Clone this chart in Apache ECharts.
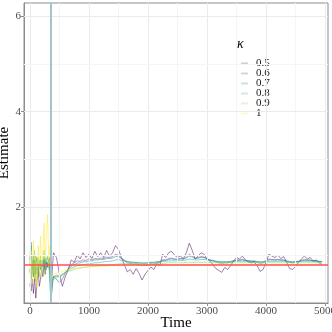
<!DOCTYPE html>
<html>
<head>
<meta charset="utf-8">
<script src="https://cdn.jsdelivr.net/npm/echarts@6/dist/echarts.min.js"></script>
<style>
  html, body { margin: 0; padding: 0; background: #fff; }
  #chart { width: 332px; height: 332px; }
</style>
</head>
<body>
<div id="chart"></div>
<script>
// sample times (shared by every series)
const time = [
  0, 20, 40, 60, 80, 100, 120, 140, 160, 180, 200, 220, 240, 260, 280, 300, 320, 340, 360, 380, 400,
  450, 500, 550, 600, 650, 700, 750, 800, 850, 900,
  950, 1000, 1050, 1100, 1150, 1200, 1250, 1300, 1350, 1400,
  1450, 1500, 1550, 1600, 1650, 1700, 1750, 1800, 1850, 1900,
  1950, 2000, 2050, 2100, 2150, 2200, 2250, 2300, 2350, 2400,
  2450, 2500, 2550, 2600, 2650, 2700, 2750, 2800, 2850, 2900,
  2950, 3000, 3050, 3100, 3150, 3200, 3250, 3300, 3350, 3400,
  3450, 3500, 3550, 3600, 3650, 3700, 3750, 3800, 3850, 3900,
  3950, 4000, 4050, 4100, 4150, 4200, 4250, 4300, 4350, 4400,
  4450, 4500, 4550, 4600, 4650, 4700, 4750, 4800, 4850, 4900,
  4950
]

const kappa = ['0.5', '0.6', '0.7', '0.8', '0.9', '1']
const colors = ['#440154', '#414487', '#2A788E', '#22A884', '#7AD151', '#FDE725']

const est05 = [
  0.4, 0.25, 0.5, 0.2, 0.55, 0.1, 0.45, 0.65, 0.35, 0.5, 0.7, 0.55, 0.8, 0.6, 0.85, 0.75, 0.9, 0.95, 0.3, 0.7, 1.05,
  0.95, 0.6, 0.35, 0.55, 0.7, 0.9, 0.85, 1.0, 0.92, 1.05,
  0.95, 1.02, 0.93, 1.08, 0.97, 1.05, 0.95, 1.1, 0.98, 1.05,
  1.2, 1.12, 0.95, 0.8, 0.65, 0.7, 0.6, 0.72, 0.62, 0.48,
  0.6, 0.68, 0.75, 0.7, 0.82, 0.78, 1.02, 0.95, 1.05, 1.08,
  1.0, 0.95, 0.98, 0.93, 1.05, 1.25, 1.1, 0.92, 0.98, 1.05,
  1.02, 0.92, 0.88, 0.8, 0.72, 0.68, 0.64, 0.74, 0.7, 0.78,
  0.88, 0.95, 0.92, 0.98, 0.9, 0.86, 0.84, 0.86, 0.78, 0.66,
  0.7, 0.85, 1.02, 0.98, 0.95, 1.0, 0.93, 0.97, 0.85, 0.72,
  0.7, 0.76, 0.85, 0.92, 0.98, 0.92, 0.95, 0.88, 0.9, 0.84,
  0.8
]
const est06 = [
  0.7, 0.5, 0.8, 0.55, 0.9, 0.6, 0.75, 0.65, 0.85, 0.7, 0.8, 0.75, 0.9, 0.7, 0.85, 0.8, 0.9, 0.7, 0.15, 0.45, 0.55,
  0.5, 0.42, 0.5, 0.62, 0.72, 0.8, 0.84, 0.88, 0.87, 0.9,
  0.89, 0.92, 0.9, 0.93, 0.92, 0.94, 0.93, 0.96, 0.95, 0.97,
  1.02, 1.0, 0.94, 0.88, 0.84, 0.83, 0.81, 0.82, 0.8, 0.78,
  0.79, 0.8, 0.82, 0.81, 0.84, 0.85, 0.9, 0.9, 0.93, 0.94,
  0.92, 0.91, 0.93, 0.92, 0.96, 1.02, 0.98, 0.93, 0.95, 0.97,
  0.96, 0.92, 0.9, 0.88, 0.86, 0.84, 0.83, 0.84, 0.84, 0.85,
  0.88, 0.9, 0.9, 0.91, 0.89, 0.88, 0.87, 0.87, 0.85, 0.83,
  0.84, 0.88, 0.92, 0.91, 0.9, 0.91, 0.9, 0.9, 0.87, 0.85,
  0.84, 0.85, 0.87, 0.89, 0.91, 0.9, 0.9, 0.88, 0.88, 0.87,
  0.86
]
const est07 = [
  0.9, 1.27, 0.7, 1.0, 0.6, 0.85, 0.95, 0.7, 0.8, 0.9, 0.75, 0.85, 0.95, 0.8, 0.9, 0.95, 0.85, 0.6, 0.08, 0.35, 0.55,
  0.58, 0.55, 0.58, 0.64, 0.7, 0.76, 0.8, 0.83, 0.84, 0.86,
  0.86, 0.88, 0.88, 0.9, 0.9, 0.91, 0.91, 0.93, 0.93, 0.94,
  0.97, 0.97, 0.93, 0.9, 0.87, 0.86, 0.85, 0.85, 0.84, 0.83,
  0.83, 0.84, 0.85, 0.85, 0.86, 0.87, 0.89, 0.89, 0.91, 0.92,
  0.91, 0.91, 0.92, 0.92, 0.94, 0.98, 0.96, 0.93, 0.94, 0.95,
  0.95, 0.92, 0.9, 0.89, 0.87, 0.86, 0.86, 0.86, 0.86, 0.87,
  0.88, 0.89, 0.89, 0.9, 0.89, 0.88, 0.88, 0.88, 0.87, 0.86,
  0.86, 0.88, 0.9, 0.9, 0.9, 0.9, 0.9, 0.89, 0.88, 0.87,
  0.86, 0.87, 0.87, 0.88, 0.89, 0.89, 0.89, 0.88, 0.88, 0.87,
  0.87
]
const est08 = [
  0.8, 1.2, 0.6, 0.9, 0.5, 1.0, 0.75, 0.6, 0.9, 0.8, 0.65, 0.9, 0.75, 0.95, 0.7, 0.85, 0.9, 0.3, 0.1, 0.45, 0.55,
  0.55, 0.57, 0.6, 0.64, 0.68, 0.72, 0.75, 0.78, 0.79, 0.8,
  0.81, 0.82, 0.83, 0.84, 0.84, 0.85, 0.86, 0.87, 0.87, 0.88,
  0.9, 0.91, 0.89, 0.88, 0.86, 0.85, 0.85, 0.84, 0.84, 0.84,
  0.84, 0.84, 0.85, 0.85, 0.86, 0.86, 0.87, 0.87, 0.88, 0.88,
  0.88, 0.88, 0.89, 0.89, 0.9, 0.92, 0.91, 0.9, 0.9, 0.91,
  0.91, 0.9, 0.89, 0.88, 0.87, 0.87, 0.86, 0.86, 0.86, 0.86,
  0.87, 0.87, 0.87, 0.87, 0.87, 0.87, 0.87, 0.86, 0.86, 0.86,
  0.86, 0.86, 0.87, 0.87, 0.87, 0.87, 0.87, 0.87, 0.87, 0.86,
  0.86, 0.86, 0.86, 0.87, 0.87, 0.87, 0.87, 0.87, 0.86, 0.86,
  0.86
]
const est09 = [
  0.7, 0.5, 0.9, 0.6, 1.1, 0.45, 0.8, 0.95, 0.55, 1.0, 0.7, 0.85, 1.1, 0.6, 0.9, 1.0, 0.75, 0.6, 0.35, 0.45, 0.5,
  0.52, 0.56, 0.6, 0.63, 0.66, 0.68, 0.7, 0.72, 0.73, 0.74,
  0.75, 0.76, 0.76, 0.77, 0.77, 0.78, 0.78, 0.79, 0.79, 0.8,
  0.81, 0.82, 0.82, 0.82, 0.82, 0.82, 0.82, 0.82, 0.82, 0.82,
  0.82, 0.82, 0.82, 0.82, 0.83, 0.83, 0.83, 0.83, 0.84, 0.84,
  0.84, 0.84, 0.84, 0.84, 0.85, 0.85, 0.85, 0.85, 0.85, 0.85,
  0.85, 0.85, 0.85, 0.84, 0.84, 0.84, 0.84, 0.84, 0.84, 0.84,
  0.84, 0.84, 0.84, 0.84, 0.84, 0.84, 0.84, 0.84, 0.84, 0.84,
  0.84, 0.84, 0.84, 0.84, 0.84, 0.84, 0.84, 0.84, 0.84, 0.84,
  0.84, 0.84, 0.84, 0.84, 0.84, 0.84, 0.84, 0.84, 0.84, 0.84,
  0.84
]
const est10 = [
  0.6, 1.1, 0.4, 1.3, 0.5, 1.0, 0.3, 1.2, 0.7, 1.4, 0.5, 1.1, 1.67, 0.9, 1.5, 1.85, 0.8, 1.2, 0.45, 0.55, 0.6,
  0.62, 0.64, 0.66, 0.68, 0.7, 0.71, 0.72, 0.73, 0.74, 0.74,
  0.75, 0.75, 0.76, 0.76, 0.76, 0.77, 0.77, 0.77, 0.78, 0.78,
  0.78, 0.78, 0.78, 0.79, 0.79, 0.79, 0.79, 0.79, 0.79, 0.79,
  0.79, 0.79, 0.79, 0.79, 0.79, 0.79, 0.79, 0.79, 0.79, 0.79,
  0.79, 0.79, 0.79, 0.79, 0.79, 0.8, 0.8, 0.8, 0.8, 0.8,
  0.8, 0.8, 0.8, 0.8, 0.8, 0.8, 0.8, 0.8, 0.8, 0.8,
  0.8, 0.8, 0.8, 0.8, 0.8, 0.8, 0.8, 0.8, 0.8, 0.8,
  0.8, 0.8, 0.8, 0.8, 0.8, 0.8, 0.8, 0.8, 0.8, 0.8,
  0.8, 0.8, 0.8, 0.8, 0.8, 0.8, 0.8, 0.8, 0.8, 0.8,
  0.8
]
const estimates = [est05, est06, est07, est08, est09, est10]

const trueValue = 0.8
const changeTime = 350

// tick / grid positions
const xMajor = [0, 1000, 2000, 3000, 4000, 5000]
const xMinor = [500, 1500, 2500, 3500, 4500]
const yMajor = [2, 4, 6]
const yMinor = [1, 3, 5]

const serif = 'Liberation Serif'

function rgba (hex, a) {
  let n = parseInt(hex.slice(1), 16)
  return 'rgba(' + (n >> 16) + ',' + ((n >> 8) & 255) + ',' + (n & 255) + ',' + a + ')'
}

let chart = echarts.init(document.getElementById('chart'), null, { renderer: 'canvas' })

let gridLines = []
xMajor.forEach(v => gridLines.push({ xAxis: v, lineStyle: { color: '#ebebeb', width: 1 } }))
xMinor.forEach(v => gridLines.push({ xAxis: v, lineStyle: { color: '#f5f5f5', width: 1 } }))
yMajor.forEach(v => gridLines.push({ yAxis: v, lineStyle: { color: '#ebebeb', width: 1 } }))
yMinor.forEach(v => gridLines.push({ yAxis: v, lineStyle: { color: '#f5f5f5', width: 1 } }))

let series = [{
  type: 'line',
  data: [],
  z: 0,
  silent: true,
  markLine: {
    silent: true,
    symbol: 'none',
    animation: false,
    label: { show: false },
    lineStyle: { type: 'solid' },
    data: gridLines
  }
}]

kappa.forEach((k, i) => {
  series.push({
    name: k,
    type: 'line',
    data: time.map((t, j) => [t, estimates[i][j]]),
    showSymbol: false,
    symbol: 'none',
    clip: true,
    z: 2,
    itemStyle: { color: colors[i] },
    lineStyle: { color: rgba(colors[i], 0.5), width: 1 },
    emphasis: { disabled: true },
    animation: false
  })
})

series.push({
  type: 'line',
  data: [],
  z: 3,
  silent: true,
  markLine: {
    silent: true,
    symbol: 'none',
    animation: false,
    label: { show: false },
    data: [
      { xAxis: changeTime, lineStyle: { color: '#a3c3cf', width: 2, type: 'solid' } },
      { yAxis: trueValue, lineStyle: { color: '#ff5050', width: 1.5, type: 'solid' } }
    ]
  }
})

let option = {
  backgroundColor: '#ffffff',
  animation: false,
  grid: {
    left: 24, right: 4, top: 3, bottom: 29,
    containLabel: false,
    outerBoundsMode: 'none',
    show: true, borderColor: '#8c8c8c', borderWidth: 1, backgroundColor: '#ffffff'
  },
  xAxis: {
    type: 'value',
    min: -100,
    max: 5050,
    name: 'Time',
    nameLocation: 'middle',
    nameGap: 13,
    nameMoveOverlap: false,
    nameTextStyle: { fontFamily: serif, fontSize: 15, color: '#000', verticalAlign: 'top' },
    axisLine: { show: true, onZero: false, lineStyle: { color: '#8c8c8c' } },
    axisTick: { show: true, length: 3, customValues: xMajor, lineStyle: { color: '#8c8c8c' } },
    axisLabel: {
      customValues: xMajor, margin: 3, fontFamily: serif, fontSize: 11, color: '#4d4d4d',
      formatter: v => String(v)
    },
    splitLine: { show: false }
  },
  yAxis: {
    type: 'value',
    min: 0,
    max: 6.27,
    name: 'Estimate',
    nameLocation: 'middle',
    nameGap: 12,
    nameMoveOverlap: false,
    nameTextStyle: { fontFamily: serif, fontSize: 15, color: '#000' },
    axisLine: { show: true, onZero: false, lineStyle: { color: '#8c8c8c' } },
    axisTick: { show: true, length: 3, customValues: yMajor, lineStyle: { color: '#8c8c8c' } },
    axisLabel: {
      customValues: yMajor, margin: 3, fontFamily: serif, fontSize: 11, color: '#4d4d4d',
      formatter: v => String(v)
    },
    splitLine: { show: false }
  },
  legend: {
    orient: 'vertical',
    left: 236,
    top: 53,
    itemWidth: 7,
    itemHeight: 2,
    itemGap: -1,
    icon: 'rect',
    selectedMode: false,
    textStyle: { fontFamily: serif, fontSize: 11, color: '#1a1a1a', padding: [0, 0, 0, 3] },
    data: kappa.map((k, i) => ({ name: k, itemStyle: { color: rgba(colors[i], 0.22) } }))
  },
  graphic: [{
    type: 'text',
    left: 237,
    top: 37,
    style: { text: 'κ', font: 'italic 14px ' + serif, fill: '#000' }
  }],
  series: series
}

chart.setOption(option)
</script>
</body>
</html>
